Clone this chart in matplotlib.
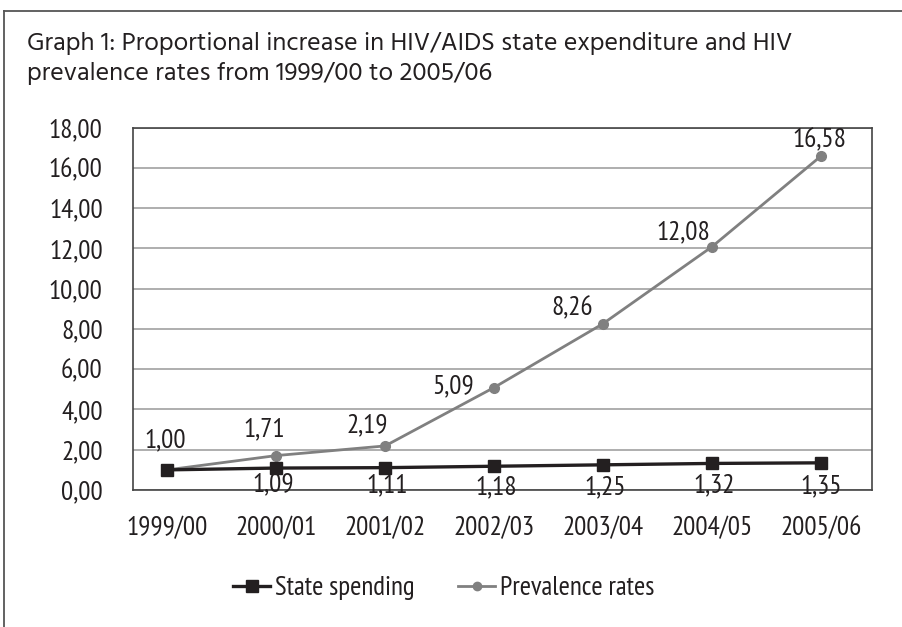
import matplotlib
matplotlib.use("Agg")
import matplotlib.pyplot as plt
from matplotlib.lines import Line2D

categories = ["1999/00", "2000/01", "2001/02", "2002/03", "2003/04", "2004/05", "2005/06"]
state_spending = [1.00, 1.09, 1.11, 1.18, 1.25, 1.32, 1.35]
prevalence_rates = [1.00, 1.71, 2.19, 5.09, 8.26, 12.08, 16.58]
y_ticks = [0, 2, 4, 6, 8, 10, 12, 14, 16, 18]

title_lines = ["Graph 1: Proportional increase in HIV/AIDS state expenditure and HIV",
               "prevalence rates from 1999/00 to 2005/06"]

# label offsets in pixels (style)
prev_offsets = [(-2, 30), (-12, 26), (-18, 21), (-41, 1), (-31, 15), (-29, 15), (-1, 16)]
state_offsets = [None, (-3, -16), (2, -18), (2, -21), (2, -22), (2, -22), (0, -23)]

NARROW = ["PT Sans Narrow", "Roboto Condensed", "Fira Sans Condensed", "IBM Plex Sans Condensed", "DejaVu Sans"]
WIDE = ["Hind", "Open Sans", "DejaVu Sans"]
TXT = "#231f20"
BLACK = "#231f20"
GREY = "#808080"
FS = 19.5

fig = plt.figure(figsize=(9.03, 6.27), dpi=100)
W, H = 903, 627

# outer frame lines (top and left)
fig.add_artist(Line2D([4 / W, 1], [1 - 11 / H, 1 - 11 / H], color="#555555", lw=1.3, transform=fig.transFigure))
fig.add_artist(Line2D([4 / W, 4 / W], [0, 1 - 11 / H], color="#555555", lw=1.3, transform=fig.transFigure))

t1 = fig.text(27 / W, 1 - 50 / H, title_lines[0], ha="left", va="baseline", fontsize=15, family=WIDE, color=TXT)
t2 = fig.text(27 / W, 1 - 80 / H, title_lines[1], ha="left", va="baseline", fontsize=15, family=WIDE, color=TXT)
# fit title font size to the reference width of the first line (~770 px)
r = fig.canvas.get_renderer()
w1 = t1.get_window_extent(r).width
fs_title = 15 * 770 / w1
t1.set_fontsize(fs_title)
t2.set_fontsize(fs_title)

left, right, top, bottom = 133.3, 871.7, 127.7, 490
ax = fig.add_axes([left / W, 1 - bottom / H, (right - left) / W, (bottom - top) / H])

x = list(range(len(categories)))
ax.plot(x, prevalence_rates, color=GREY, lw=2.0, marker="o", ms=7, zorder=3)
ax.plot(x, state_spending, color=BLACK, lw=2.4, marker="s", ms=9, zorder=4)

ax.set_xlim(-0.312, 6.468)
ax.set_ylim(0, 18)
ax.set_yticks(y_ticks)
ax.set_yticklabels([f"{v:.2f}".replace(".", ",") for v in y_ticks], family=NARROW, fontsize=FS, color=TXT)
ax.set_xticks(x)
ax.set_xticklabels(categories, family=NARROW, fontsize=FS, color=TXT)
ax.tick_params(length=0)
ax.tick_params(axis="y", pad=22)
ax.tick_params(axis="x", pad=19)
ax.yaxis.grid(True, color="#a8a8a8", lw=1.3)
ax.set_axisbelow(True)
for s in ax.spines.values():
    s.set_color("#444444")
    s.set_linewidth(1.2)

for i, v in enumerate(prevalence_rates):
    dx, dy = prev_offsets[i]
    ax.annotate(f"{v:.2f}".replace(".", ","), (i, v), xytext=(dx, dy), textcoords="offset pixels",
                ha="center", va="center", family=NARROW, fontsize=FS, color=TXT, zorder=5)
for i, v in enumerate(state_spending):
    if state_offsets[i] is None:
        continue
    dx, dy = state_offsets[i]
    ax.annotate(f"{v:.2f}".replace(".", ","), (i, v), xytext=(dx, dy), textcoords="offset pixels",
                ha="center", va="center", family=NARROW, fontsize=FS, color=TXT, zorder=5)

handles = [Line2D([], [], color=BLACK, lw=2.4, marker="s", ms=8),
           Line2D([], [], color=GREY, lw=2.0, marker="o", ms=6)]
fig.legend(handles, ["State spending", "Prevalence rates"], loc="center",
           bbox_to_anchor=(444 / W, 1 - 588 / H), ncol=2, frameon=False,
           prop={"family": NARROW, "size": FS}, handlelength=1.35, handletextpad=0.2,
           columnspacing=1.6, labelcolor=TXT)

fig.savefig("out.png", dpi=100)
